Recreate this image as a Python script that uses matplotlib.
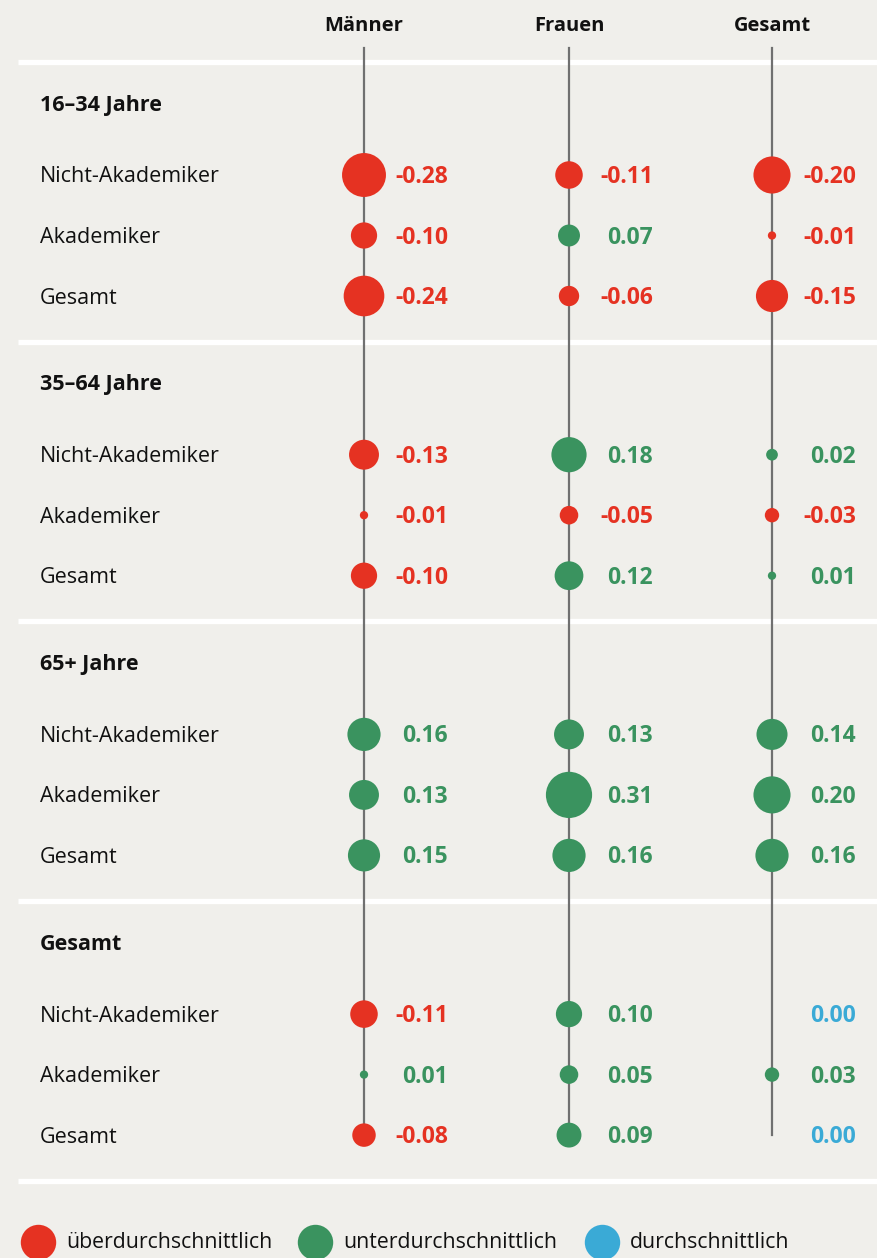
import numpy as np
import matplotlib.pyplot as plt

# data
groups = ["16–34 Jahre", "35–64 Jahre", "65+ Jahre", "Gesamt"]
rows = ["Nicht-Akademiker", "Akademiker", "Gesamt"]
columns = ["Männer", "Frauen", "Gesamt"]

maenner = [-0.28, -0.10, -0.24, -0.13, -0.01, -0.10, 0.16, 0.13, 0.15, -0.11, 0.01, -0.08]
frauen = [-0.11, 0.07, -0.06, 0.18, -0.05, 0.12, 0.13, 0.31, 0.16, 0.10, 0.05, 0.09]
gesamt = [-0.20, -0.01, -0.15, 0.02, -0.03, 0.01, 0.14, 0.20, 0.16, 0.00, 0.03, 0.00]

legend_labels = ["überdurchschnittlich", "unterdurchschnittlich", "durchschnittlich"]

# style
BG = "#f0efeb"
RED = "#e53222"
GREEN = "#3a935f"
BLUE = "#3aaad6"
GRAY = "#707070"
FONT = "Open Sans"

W, H = 877, 1258
COL_X = [364, 569, 772]
GROUP_Y0 = 103
GROUP_STEP = 279.7
ROW_OFFSET = 72
ROW_STEP = 60.5
SIZE_K = 3571  # marker area (pt^2) per unit of |value|
TXT_DY = 2  # Open Sans sits a little high with va=center


def value_color(v):
    if v < 0:
        return RED
    if v > 0:
        return GREEN
    return BLUE


fig = plt.figure(figsize=(W / 100, H / 100), dpi=100, facecolor=BG)
ax = fig.add_axes([0, 0, 1, 1])
ax.set_facecolor(BG)
ax.set_xlim(0, W)
ax.set_ylim(H, 0)
ax.axis("off")

# row positions
row_y = []
for g in range(len(groups)):
    for r in range(len(rows)):
        row_y.append(GROUP_Y0 + g * GROUP_STEP + ROW_OFFSET + r * ROW_STEP)
row_y = np.array(row_y)

# white separators
for g in range(len(groups) + 1):
    y = GROUP_Y0 + g * GROUP_STEP - 41
    ax.plot([18, W], [y, y], color="white", lw=3.8, solid_capstyle="butt", zorder=1)

# headers and vertical lines
for x, name in zip(COL_X, columns):
    ax.text(x, 24 + TXT_DY, name, ha="center", va="center", fontsize=14.5,
            fontweight="bold", family=FONT, color="#111111")
    ax.plot([x, x], [48, row_y[-1]], color=GRAY, lw=1.6, zorder=2)

# group and row labels
for g, gname in enumerate(groups):
    ax.text(40, GROUP_Y0 + g * GROUP_STEP + TXT_DY, gname, ha="left", va="center",
            fontsize=15.5, fontweight="bold", family=FONT, color="#111111")
    for r, rname in enumerate(rows):
        ax.text(40, row_y[g * len(rows) + r] + TXT_DY, rname, ha="left", va="center",
                fontsize=15.5, family=FONT, color="#111111")

# bubbles and values
for x, vals in zip(COL_X, [maenner, frauen, gesamt]):
    vals = np.array(vals)
    cols = [value_color(v) for v in vals]
    ax.scatter(np.full(len(vals), x), row_y, s=SIZE_K * np.abs(vals),
               c=cols, linewidths=0, zorder=3)
    for v, y, c in zip(vals, row_y, cols):
        ax.text(x + 84, y + TXT_DY, f"{v:.2f}", ha="right", va="center", fontsize=16.5,
                fontweight="bold", family=FONT, color=c)

# legend
leg_x = [38, 315, 602]
for lx, lab, c in zip(leg_x, legend_labels, [RED, GREEN, BLUE]):
    ax.scatter([lx], [1242], s=650, c=c, linewidths=0, zorder=3, clip_on=False)
    ax.text(lx + 28, 1240 + TXT_DY, lab, ha="left", va="center", fontsize=15.3,
            family=FONT, color="#111111")

fig.savefig("out.png", dpi=100, facecolor=BG)
